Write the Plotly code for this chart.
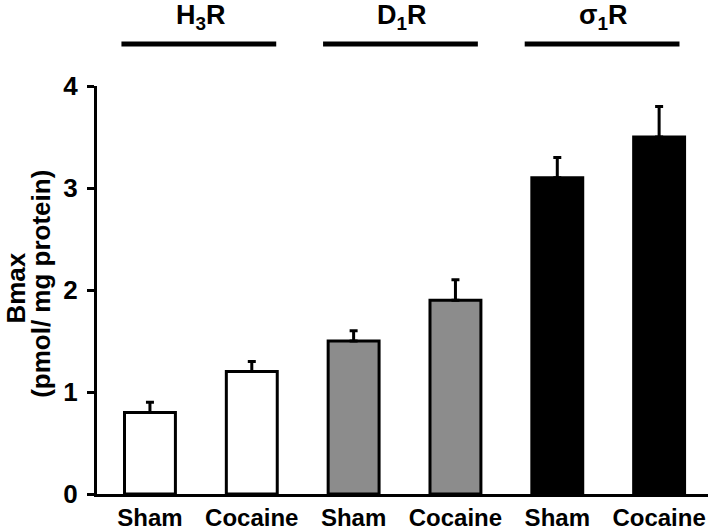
import plotly.graph_objects as go

# Data
categories = ["Sham", "Cocaine", "Sham", "Cocaine", "Sham", "Cocaine"]
bmax_values = [0.8, 1.2, 1.5, 1.9, 3.1, 3.5]
bmax_errors = [0.1, 0.1, 0.1, 0.2, 0.2, 0.3]
bar_colors = ["#ffffff", "#ffffff", "#8c8c8c", "#8c8c8c", "#000000", "#000000"]
group_labels = ["H<sub>3</sub>R", "D<sub>1</sub>R", "σ<sub>1</sub>R"]
y_tick_values = [0, 1, 2, 3, 4]

FONT = "Liberation Sans, Arial, sans-serif"
positions = list(range(len(categories)))

fig = go.Figure()
fig.add_trace(go.Bar(
    x=positions,
    y=bmax_values,
    width=0.5,
    marker=dict(color=bar_colors, line=dict(color="black", width=3)),
    error_y=dict(type="data", symmetric=False, array=bmax_errors,
                 arrayminus=[0] * len(bmax_errors),
                 color="black", thickness=3, width=4),
    showlegend=False,
    hoverinfo="skip",
))

# group bars and labels above the plot
for g, lab in enumerate(group_labels):
    c = 2 * g + 0.48 - 0.02 * g
    fig.add_shape(type="line", xref="x", yref="paper",
                  x0=c - 0.76, x1=c + 0.76, y0=1.103, y1=1.103,
                  line=dict(color="black", width=5))
    fig.add_annotation(x=2 * g + 0.5 - 0.025 * g, y=1.17, xref="x", yref="paper",
                       text=lab, showarrow=False, xanchor="center", yanchor="middle",
                       font=dict(family=FONT, size=27, color="black", weight="bold"))

# y-axis title (two lines)
fig.add_annotation(x=-0.1326, y=0.506, xref="paper", yref="paper",
                   text="Bmax", textangle=-90, showarrow=False,
                   xanchor="center", yanchor="middle",
                   font=dict(family=FONT, size=26, color="black", weight="bold"))
fig.add_annotation(x=-0.0917, y=0.515, xref="paper", yref="paper",
                   text="(pmol/ mg protein)", textangle=-90, showarrow=False,
                   xanchor="center", yanchor="middle",
                   font=dict(family=FONT, size=26, color="black", weight="bold"))

fig.update_layout(
    width=720, height=530,
    margin=dict(l=97, r=12, t=86, b=36),
    paper_bgcolor="white", plot_bgcolor="white",
    font=dict(family=FONT, color="black"),
)
fig.update_xaxes(
    range=[-0.52, 5.48], tickvals=positions, ticktext=categories,
    showline=True, linecolor="black", linewidth=3, ticks="",
    showgrid=False, zeroline=False, automargin=False, ticklabelstandoff=0,
    tickfont=dict(family=FONT, size=24, color="black", weight="bold"),
)
fig.update_yaxes(
    range=[0, 4], tickvals=y_tick_values,
    showline=True, linecolor="black", linewidth=3,
    ticks="outside", ticklen=7, tickwidth=3, tickcolor="black",
    showgrid=False, zeroline=False, ticklabelstandoff=4, automargin=False,
    tickfont=dict(family=FONT, size=26, color="black", weight="bold"),
)

fig.write_html("out.html",
               config={"displayModeBar": False},
               post_script="document.body.style.margin='0';document.body.style.overflow='hidden';")
